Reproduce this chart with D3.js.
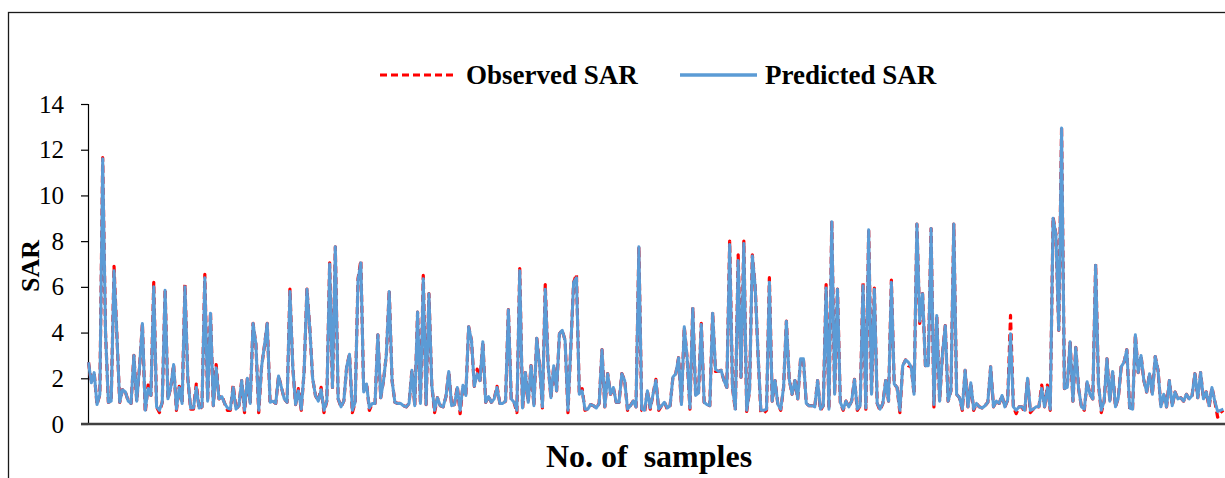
<!DOCTYPE html>
<html>
<head>
<meta charset="utf-8">
<script src="https://cdn.jsdelivr.net/npm/d3@7"></script>
<style>
  html, body { margin: 0; padding: 0; background: #fff; }
  svg { display: block; }
  text { font-family: "Liberation Serif", "Times New Roman", serif; }
</style>
</head>
<body>
<svg id="chart" width="1225" height="478"></svg>
<script>
// ---- Data ----
const observedSAR = [
  2.7, 1.8, 2.25, 0.85, 1.3, 11.65, 4.0, 0.95, 1.0, 6.9, 3.9, 0.95, 1.5, 1.4, 1.0, 0.9, 3.0, 1.0, 2.5, 4.4, 0.5, 1.7, 1.25, 6.2, 0.75, 0.5, 0.95, 5.9, 1.1, 1.6, 2.6, 0.6, 1.65, 0.9, 6.1, 2.0, 0.65, 0.65, 1.75, 0.65, 0.75, 6.55, 1.0, 4.9, 0.8, 2.6, 1.1, 1.25, 0.9, 0.6,
  0.6, 1.7, 0.65, 0.8, 1.9, 0.5, 2.0, 0.9, 4.4, 3.5, 0.5, 2.5, 3.4, 4.4, 0.95, 1.0, 0.9, 2.1, 1.6, 1.1, 0.95, 5.9, 2.5, 0.85, 1.55, 0.6, 2.3, 5.9, 4.2, 2.0, 1.25, 1.0, 1.6, 0.5, 1.0, 7.05, 1.6, 7.75, 1.1, 0.75, 1.0, 2.5, 3.05, 0.5, 0.95, 6.35, 7.15, 1.4, 1.8, 0.6, 0.9,
  0.9, 3.9, 1.15, 1.9, 3.05, 5.85, 1.9, 0.95, 0.9, 0.9, 0.8, 0.75, 0.9, 2.35, 0.8, 4.9, 0.9, 6.5, 0.85, 5.7, 1.7, 0.5, 1.15, 0.8, 0.75, 1.2, 2.3, 0.8, 0.85, 1.65, 0.45, 1.7, 1.25, 4.25, 3.65, 1.65, 2.4, 1.9, 3.6, 0.95, 1.2, 0.95, 1.1, 1.65, 0.9, 0.9, 1.0, 5.0, 1.1, 0.95, 0.5,
  6.8, 0.65, 2.25, 0.95, 2.55, 0.8, 3.75, 2.6, 0.7, 6.1, 2.6, 1.15, 2.55, 1.45, 3.95, 4.1, 3.65, 0.5, 3.35, 6.2, 6.55, 1.3, 1.55, 0.6, 0.65, 0.85, 0.8, 0.7, 0.9, 3.25, 0.75, 2.2, 1.3, 1.6, 0.95, 0.95, 2.2, 1.9, 0.6, 0.8, 1.0, 0.75, 7.75, 0.6, 0.5, 1.45, 0.65, 1.3, 1.95, 0.6, 0.8, 0.95,
  0.65, 0.8, 2.05, 2.2, 2.9, 0.85, 4.25, 2.9, 0.65, 5.1, 1.25, 1.3, 4.4, 0.95, 0.85, 0.8, 4.9, 2.3, 2.3, 2.35, 1.9, 1.6, 8.0, 1.6, 0.6, 7.4, 2.05, 8.0, 0.55, 1.45, 7.4, 6.0, 3.05, 0.5, 0.48, 0.6, 6.4, 1.0, 1.9, 0.85, 0.6, 1.6, 4.5, 1.95, 1.3, 1.9, 1.1, 2.85, 2.85, 0.9, 0.8,
  0.8, 0.75, 1.9, 0.6, 0.8, 6.1, 0.65, 8.9, 1.3, 5.9, 0.95, 0.6, 1.0, 0.75, 1.0, 1.95, 0.6, 0.8, 6.2, 0.65, 8.55, 1.3, 5.95, 0.9, 0.6, 0.9, 1.9, 1.0, 6.3, 1.75, 1.6, 0.5, 2.55, 2.8, 2.55, 2.5, 1.3, 8.75, 4.4, 5.7, 2.55, 2.55, 8.55, 0.75, 4.75, 1.0, 3.05, 4.3, 1.0, 1.45, 8.75,
  1.3, 1.15, 0.6, 2.35, 0.75, 1.8, 0.6, 0.9, 0.75, 0.7, 0.8, 0.95, 2.5, 0.75, 1.0, 0.9, 1.25, 0.75, 1.05, 4.75, 0.75, 0.45, 0.75, 0.75, 0.5, 2.0, 0.5, 0.65, 0.75, 0.75, 1.7, 0.75, 1.7, 0.6, 9.05, 8.3, 4.1, 13.0, 1.55, 1.6, 3.6, 1.0, 3.35, 1.55, 0.75, 0.6, 1.85, 1.3, 1.1, 7.0, 1.75,
  0.5, 1.0, 2.85, 1.0, 2.3, 0.75, 1.15, 2.5, 2.7, 3.25, 0.65, 0.6, 3.9, 2.25, 3.0, 1.9, 1.4, 2.2, 1.3, 2.95, 2.35, 0.75, 1.3, 0.75, 1.9, 0.8, 1.4, 1.1, 1.15, 1.0, 1.3, 1.1, 1.25, 2.2, 1.15, 2.25, 1.1, 1.4, 0.75, 1.6, 1.0, 0.3, 0.5, 0.6
];

const predictedSAR = [
  2.7, 1.8, 2.25, 0.85, 1.3, 11.6, 4.0, 0.95, 1.0, 6.7, 3.9, 0.95, 1.5, 1.4, 1.0, 0.9, 3.0, 1.0, 2.5, 4.4, 0.6, 1.55, 1.25, 6.0, 0.75, 0.6, 0.95, 5.85, 1.1, 1.6, 2.6, 0.65, 1.6, 0.9, 6.0, 2.0, 0.7, 0.7, 1.6, 0.7, 0.75, 6.4, 1.0, 4.85, 0.8, 2.45, 1.1, 1.2, 0.9, 0.7,
  0.65, 1.6, 0.65, 0.8, 1.9, 0.6, 2.0, 0.9, 4.4, 3.5, 0.6, 2.5, 3.4, 4.4, 0.95, 1.0, 0.9, 2.1, 1.6, 1.1, 0.95, 5.8, 2.5, 0.85, 1.45, 0.65, 2.3, 5.9, 4.2, 2.0, 1.25, 1.0, 1.5, 0.6, 1.0, 7.0, 1.6, 7.75, 1.1, 0.75, 1.0, 2.5, 3.05, 0.6, 0.95, 6.3, 7.05, 1.4, 1.75, 0.7, 0.9,
  0.9, 3.9, 1.15, 1.9, 3.05, 5.8, 1.9, 0.95, 0.9, 0.9, 0.8, 0.75, 0.9, 2.35, 0.8, 4.9, 0.9, 6.35, 0.85, 5.7, 1.7, 0.6, 1.15, 0.8, 0.75, 1.2, 2.3, 0.8, 0.85, 1.6, 0.6, 1.7, 1.25, 4.25, 3.65, 1.65, 2.2, 1.9, 3.6, 0.95, 1.2, 0.95, 1.1, 1.6, 0.9, 0.9, 1.0, 5.0, 1.1, 0.95, 0.6,
  6.7, 0.7, 2.25, 0.95, 2.55, 0.8, 3.75, 2.6, 0.75, 5.9, 2.6, 1.15, 2.55, 1.45, 3.95, 4.1, 3.65, 0.6, 3.35, 6.2, 6.4, 1.3, 1.45, 0.65, 0.65, 0.85, 0.8, 0.7, 0.9, 3.25, 0.75, 2.2, 1.3, 1.6, 0.95, 0.95, 2.2, 1.9, 0.65, 0.8, 1.0, 0.75, 7.75, 0.65, 0.6, 1.45, 0.7, 1.3, 1.9, 0.65, 0.8, 0.95,
  0.7, 0.8, 2.05, 2.2, 2.9, 0.85, 4.25, 2.9, 0.7, 5.05, 1.25, 1.35, 4.35, 0.95, 0.85, 0.8, 4.85, 2.4, 2.3, 2.35, 1.9, 1.6, 7.85, 1.6, 0.65, 7.15, 2.05, 7.9, 0.6, 1.45, 7.35, 6.0, 3.05, 0.6, 0.6, 0.65, 6.2, 1.0, 1.9, 0.85, 0.65, 1.6, 4.5, 1.95, 1.3, 1.9, 1.1, 2.85, 2.85, 0.9, 0.8,
  0.8, 0.75, 1.9, 0.65, 0.8, 5.95, 0.65, 8.85, 1.3, 5.9, 0.95, 0.65, 1.0, 0.75, 1.0, 1.95, 0.65, 0.8, 6.05, 0.7, 8.5, 1.3, 5.9, 0.9, 0.65, 0.9, 1.9, 1.0, 6.2, 1.75, 1.6, 0.6, 2.55, 2.8, 2.7, 2.5, 1.3, 8.75, 4.5, 5.7, 2.55, 2.55, 8.55, 0.85, 4.75, 1.0, 3.05, 4.3, 1.0, 1.45, 8.75,
  1.3, 1.15, 0.65, 2.35, 0.75, 1.8, 0.65, 0.9, 0.75, 0.7, 0.8, 0.95, 2.5, 0.75, 1.0, 0.9, 1.25, 0.75, 1.05, 3.95, 0.75, 0.6, 0.75, 0.75, 0.6, 2.0, 0.6, 0.65, 0.75, 0.75, 1.55, 0.75, 1.6, 0.65, 9.0, 8.3, 4.1, 12.95, 1.55, 1.6, 3.6, 1.0, 3.35, 1.55, 0.75, 0.65, 1.85, 1.3, 1.1, 6.95, 1.75,
  0.6, 1.0, 2.85, 1.0, 2.3, 0.75, 1.15, 2.5, 2.7, 3.25, 0.7, 0.65, 3.9, 2.25, 3.0, 1.9, 1.4, 2.2, 1.3, 2.95, 2.35, 0.75, 1.3, 0.75, 1.9, 0.8, 1.4, 1.1, 1.15, 1.0, 1.3, 1.1, 1.25, 2.2, 1.15, 2.25, 1.1, 1.4, 0.8, 1.6, 1.0, 0.55, 0.6, 0.65
];

const sampleNo = observedSAR.map((_, i) => i + 1);
const yTicks = [0, 2, 4, 6, 8, 10, 12, 14];
const seriesNames = ["Observed SAR", "Predicted SAR"];
const xTitle = "No. of  samples";
const yTitle = "SAR";

// ---- Drawing ----
const svg = d3.select("#chart");
svg.append("rect").attr("width", 1225).attr("height", 478).attr("fill", "#fff");
// outer chart frame (continues past right/bottom edge)
svg.append("rect")
  .attr("x", 8.5).attr("y", 12.5).attr("width", 1240).attr("height", 480)
  .attr("fill", "none").attr("stroke", "#1a1a1a").attr("stroke-width", 1.3);

const x = d3.scalePoint().domain(sampleNo).range([88.5, 1223.3]);
const y = d3.scaleLinear().domain([0, 14]).range([424, 104]);

// y axis
const yAxis = svg.append("g")
  .attr("transform", "translate(88,0)")
  .call(d3.axisLeft(y).tickValues(yTicks).tickSize(7).tickPadding(17).tickFormat(d3.format("d")));
yAxis.select(".domain").attr("stroke", "#000").attr("stroke-width", 1.2);
yAxis.selectAll(".tick line").attr("stroke", "#000").attr("stroke-width", 1.2);
yAxis.selectAll(".tick text")
  .attr("font-family", "'Liberation Serif', 'Times New Roman', serif")
  .attr("font-size", 25).attr("fill", "#000");

// lines
const lineObs = d3.line().x((d, i) => x(sampleNo[i])).y(d => y(d));
svg.append("path").datum(observedSAR)
  .attr("d", lineObs)
  .attr("fill", "none").attr("stroke", "#FF0000").attr("stroke-width", 3.2)
  .attr("stroke-dasharray", "7,4").attr("stroke-linejoin", "round");
svg.append("path").datum(predictedSAR)
  .attr("d", lineObs)
  .attr("fill", "none").attr("stroke", "#5B9BD5").attr("stroke-width", 3)
  .attr("stroke-linejoin", "round");

// x axis line
svg.append("line")
  .attr("x1", 81).attr("x2", 1225).attr("y1", y(0)).attr("y2", y(0))
  .attr("stroke", "#404040").attr("stroke-width", 2.5);

// axis titles
svg.append("text")
  .attr("transform", "translate(39,266) rotate(-90)")
  .attr("text-anchor", "middle").attr("font-weight", "bold").attr("font-size", 26)
  .attr("fill", "#000").text(yTitle);
svg.append("text")
  .attr("x", 649).attr("y", 467)
  .attr("text-anchor", "middle").attr("font-weight", "bold").attr("font-size", 32)
  .attr("fill", "#000").style("white-space", "pre").text(xTitle);

// legend
const legend = svg.append("g");
legend.append("line").attr("x1", 380).attr("x2", 457).attr("y1", 75).attr("y2", 75)
  .attr("stroke", "#FF0000").attr("stroke-width", 3).attr("stroke-dasharray", "7,4");
legend.append("text").attr("x", 466).attr("y", 84)
  .attr("font-weight", "bold").attr("font-size", 27).attr("fill", "#000").text(seriesNames[0]);
legend.append("line").attr("x1", 680).attr("x2", 757).attr("y1", 75).attr("y2", 75)
  .attr("stroke", "#5B9BD5").attr("stroke-width", 3.5);
legend.append("text").attr("x", 765).attr("y", 84)
  .attr("font-weight", "bold").attr("font-size", 27).attr("fill", "#000").text(seriesNames[1]);
</script>
</body>
</html>
